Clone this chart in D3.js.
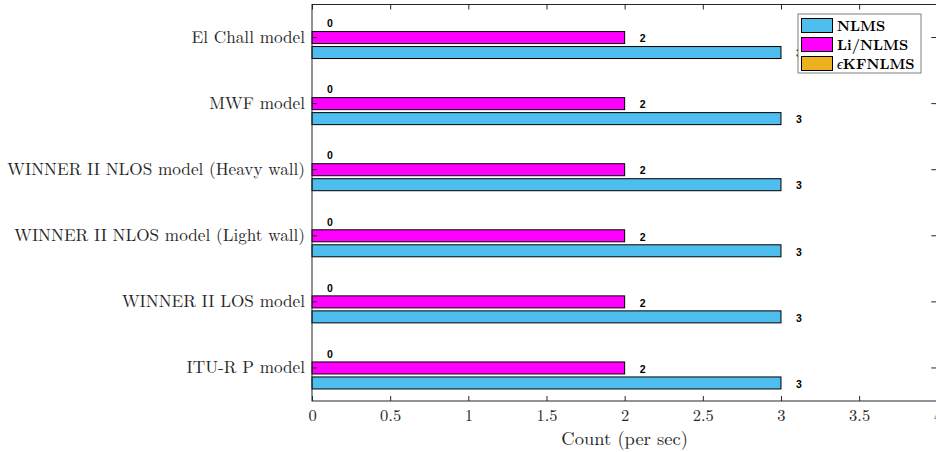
<!DOCTYPE html>
<html>
<head>
<meta charset="utf-8">
<script src="https://cdn.jsdelivr.net/npm/d3@7"></script>
<style>
  html, body { margin: 0; padding: 0; background: #fff; }
  svg { display: block; }
</style>
</head>
<body>
<svg id="chart" width="936" height="452"></svg>
<script>
// Models shown on the vertical axis, top to bottom
const categories = [
  "El Chall model",
  "MWF model",
  "WINNER II NLOS model (Heavy wall)",
  "WINNER II NLOS model (Light wall)",
  "WINNER II LOS model",
  "ITU-R P model"
];
const seriesNames = ["NLMS", "Li/NLMS", "ϵKFNLMS"];
// Counts per model, in the order of `categories`
const nlmsValues   = [3, 3, 3, 3, 3, 3];
const liNlmsValues = [2, 2, 2, 2, 2, 2];
const kfNlmsValues = [0, 0, 0, 0, 0, 0];
const xTicks = [0, 0.5, 1, 1.5, 2, 2.5, 3, 3.5, 4];
const xLabel = "Count (per sec)";

const colors = { "NLMS": "#4DBEEE", "Li/NLMS": "#FF00FF", "ϵKFNLMS": "#EDB120" };
const seriesValues = { "NLMS": nlmsValues, "Li/NLMS": liNlmsValues, "ϵKFNLMS": kfNlmsValues };

const svg = d3.select("#chart");
const m = { left: 312, right: 937.3, top: 4.5, bottom: 401 };

const x = d3.scaleLinear().domain([0, 4]).range([m.left, m.right]);
const y = d3.scaleBand().domain(categories).range([m.top, m.bottom]).padding(0);
// Bars within a group: the ϵKFNLMS bar on top, NLMS at the bottom
const inner = d3.scaleBand()
  .domain(["ϵKFNLMS", "Li/NLMS", "NLMS"])
  .range([y.bandwidth() / 2 - 22.5, y.bandwidth() / 2 + 22.5])
  .paddingInner(0.2).paddingOuter(0.1);

const serif = "'Latin Modern Roman', 'CMU Serif', 'Liberation Serif', 'Times New Roman', serif";

// Bars with value labels
const groups = svg.append("g").selectAll("g")
  .data(categories).join("g")
  .attr("transform", d => `translate(0,${y(d)})`);

groups.each(function(cat, i) {
  const g = d3.select(this);
  seriesNames.forEach(s => {
    const v = seriesValues[s][i];
    g.append("rect")
      .attr("x", x(0))
      .attr("y", inner(s))
      .attr("width", x(v) - x(0))
      .attr("height", inner.bandwidth())
      .attr("fill", colors[s])
      .attr("stroke", "#000")
      .attr("stroke-width", v === 0 ? 1.6 : 1);
    g.append("text")
      .attr("x", x(v) + 15)
      .attr("y", inner(s) + inner.bandwidth() / 2)
      .attr("dy", "0.45em")
      .attr("font-family", "'Liberation Sans', Arial, sans-serif")
      .attr("font-weight", "bold")
      .attr("font-size", 10.5)
      .text(v);
  });
});

// Axes box
svg.append("rect")
  .attr("x", m.left).attr("y", m.top)
  .attr("width", m.right - m.left).attr("height", m.bottom - m.top)
  .attr("fill", "none").attr("stroke", "#262626").attr("stroke-width", 1);

// Bottom axis
const xAxis = svg.append("g")
  .attr("transform", `translate(0,${m.bottom})`)
  .call(d3.axisBottom(x).tickValues(xTicks).tickFormat(d3.format("")).tickSize(-5).tickPadding(8));
xAxis.select(".domain").remove();
xAxis.selectAll("line").attr("stroke", "#262626");
xAxis.selectAll("text").attr("font-family", serif).attr("font-size", 16.5).attr("fill", "#262626");

// Top ticks
svg.append("g")
  .attr("transform", `translate(0,${m.top})`)
  .call(d3.axisTop(x).tickValues(xTicks).tickFormat("").tickSize(-5))
  .call(g => g.select(".domain").remove())
  .selectAll("line").attr("stroke", "#262626");

// Left category labels
const yAxis = svg.append("g")
  .attr("transform", `translate(${m.left},0)`)
  .call(d3.axisLeft(y).tickSize(-5).tickPadding(7));
yAxis.select(".domain").remove();
yAxis.selectAll("line").attr("stroke", "#262626");
yAxis.selectAll("text").attr("font-family", serif).attr("font-size", 17.2).attr("fill", "#262626");

// Right ticks
svg.append("g")
  .attr("transform", `translate(${m.right},0)`)
  .call(d3.axisRight(y).tickSize(-6).tickFormat(""))
  .call(g => g.select(".domain").remove())
  .selectAll("line").attr("stroke", "#262626");

// Axis title
svg.append("text")
  .attr("x", (m.left + m.right) / 2)
  .attr("y", 445)
  .attr("text-anchor", "middle")
  .attr("font-family", serif).attr("font-size", 18.5).attr("fill", "#262626")
  .text(xLabel);

// Legend
const legend = svg.append("g").attr("transform", "translate(798,14)");
legend.append("rect")
  .attr("width", 123).attr("height", 59)
  .attr("fill", "#fff").attr("stroke", "#7f7f7f").attr("stroke-width", 1);
seriesNames.forEach((s, i) => {
  const row = legend.append("g").attr("transform", `translate(0,${4 + i * 19})`);
  row.append("rect")
    .attr("x", 3.5).attr("y", 0.5).attr("width", 31).attr("height", 14)
    .attr("fill", colors[s]).attr("stroke", "#000").attr("stroke-width", 1);
  const t = row.append("text")
    .attr("x", 39).attr("y", 7.5).attr("dy", "0.35em")
    .attr("font-family", serif).attr("font-size", 14.5).attr("font-weight", "bold").attr("fill", "#000");
  if (s.startsWith("ϵ")) {
    t.append("tspan").attr("font-style", "italic").attr("font-weight", "normal").text("ϵ");
    t.append("tspan").text(s.slice(1));
  } else {
    t.text(s);
  }
});
</script>
</body>
</html>
